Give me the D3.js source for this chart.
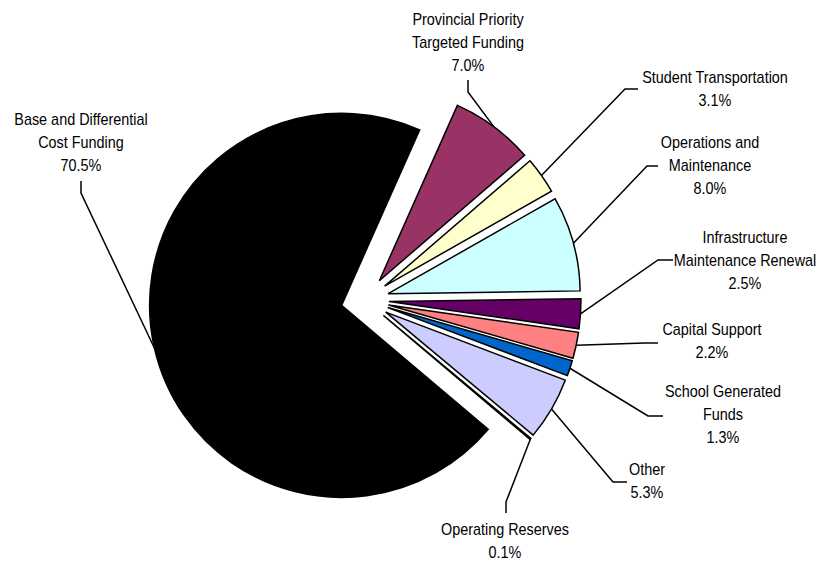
<!DOCTYPE html>
<meta charset="utf-8">
<head>
    <style>
        body { margin: 0; background: #fff; }
        text { font-family: "Liberation Sans", Arial, sans-serif; font-size: 16px; fill: #000; }
    </style>
</head>
<body>
    <div id="piechart"></div>

    <script src="https://d3js.org/d3.v7.min.js"></script>
    <script>
        // data (clockwise from the top)
        let categories = ['Provincial Priority Targeted Funding', 'Student Transportation',
            'Operations and Maintenance', 'Infrastructure Maintenance Renewal', 'Capital Support',
            'School Generated Funds', 'Other', 'Operating Reserves', 'Base and Differential Cost Funding'];
        let values = [7.0, 3.1, 8.0, 2.5, 2.2, 1.3, 5.3, 0.1, 70.5];
        let labelLines = [
            ['Provincial Priority', 'Targeted Funding'],
            ['Student Transportation'],
            ['Operations and', 'Maintenance'],
            ['Infrastructure', 'Maintenance Renewal'],
            ['Capital Support'],
            ['School Generated', 'Funds'],
            ['Other'],
            ['Operating Reserves'],
            ['Base and Differential', 'Cost Funding']
        ];
        let colors = ['#993366', '#ffffcc', '#ccffff', '#660066', '#ff8080', '#0066cc', '#ccccff', '#ffffff', '#000000'];

        // chart default setting
        let svgWidth = 821;
        let svgHeight = 562;
        let center = {x: 365, y: 300};
        let radius = 192;
        let explode = 24;
        let lineHeight = 23;
        let startDeg = 24;

        // label layout: text centre, first baseline, leader start and elbow
        let labelLayout = [
            {x: 468, y: 25, from: [468, 80], elbow: [468, 92]},
            {x: 715, y: 83, from: [638, 89], elbow: [625, 89]},
            {x: 710, y: 148, from: [658, 166], elbow: [647, 166]},
            {x: 745, y: 243, from: [673, 260], elbow: [658, 260]},
            {x: 712, y: 335, from: [658, 343], elbow: [645, 343]},
            {x: 723, y: 397, from: [663, 416], elbow: [648, 416]},
            {x: 647, y: 475, from: [627, 482], elbow: [613, 482]},
            {x: 505, y: 535, from: [506, 513], elbow: [506, 502]},
            {x: 81, y: 125, from: [81, 181], elbow: [81, 193]}
        ];

        let data = categories.map((c, i) => ({name: c, value: values[i], lines: labelLines[i], color: colors[i], layout: labelLayout[i]}));

        let pie = d3.pie()
            .sort(null)
            .value(d => d.value)
            .startAngle(startDeg * Math.PI / 180)
            .endAngle(startDeg * Math.PI / 180 + 2 * Math.PI);

        let arc = d3.arc().innerRadius(0).outerRadius(radius);

        let arcs = pie(data);

        // offset of each exploded slice along its bisector
        function offset(d) {
            let mid = (d.startAngle + d.endAngle) / 2;
            return [Math.sin(mid) * explode, -Math.cos(mid) * explode];
        }

        let svg = d3.select('#piechart')
            .append('svg')
            .attr('width', svgWidth)
            .attr('height', svgHeight);

        let g = svg.append('g')
            .attr('transform', `translate(${center.x}, ${center.y})`);

        // Draw slices
        g.selectAll('path.slice')
            .data(arcs)
            .enter()
            .append('path')
            .attr('class', 'slice')
            .attr('transform', d => `translate(${offset(d)[0]}, ${offset(d)[1]})`)
            .attr('d', arc)
            .style('fill', d => d.data.color)
            .style('stroke', '#000')
            .style('stroke-width', 1.5)
            .style('stroke-linejoin', 'miter');

        // Leader lines
        let outerPoint = d3.arc().innerRadius(radius).outerRadius(radius);
        svg.selectAll('path.leader')
            .data(arcs)
            .enter()
            .append('path')
            .attr('class', 'leader')
            .attr('d', d => {
                let off = offset(d);
                let c = outerPoint.centroid(d);
                let px = center.x + off[0] + c[0];
                let py = center.y + off[1] + c[1];
                let l = d.data.layout;
                return `M${l.from[0]},${l.from[1]}L${l.elbow[0]},${l.elbow[1]}L${px},${py}`;
            })
            .style('fill', 'none')
            .style('stroke', '#000')
            .style('stroke-width', 1.5);

        // Labels
        let labels = svg.selectAll('g.label')
            .data(arcs)
            .enter()
            .append('g')
            .attr('class', 'label')
            .attr('transform', d => `translate(${d.data.layout.x}, ${d.data.layout.y}) scale(0.9, 1)`);

        labels.each(function(d) {
            let lines = d.data.lines.concat([d3.format('.1f')(d.data.value) + '%']);
            d3.select(this).selectAll('text')
                .data(lines)
                .enter()
                .append('text')
                .attr('text-anchor', 'middle')
                .attr('y', (t, i) => i * lineHeight)
                .text(t => t);
        });
    </script>
</body>
